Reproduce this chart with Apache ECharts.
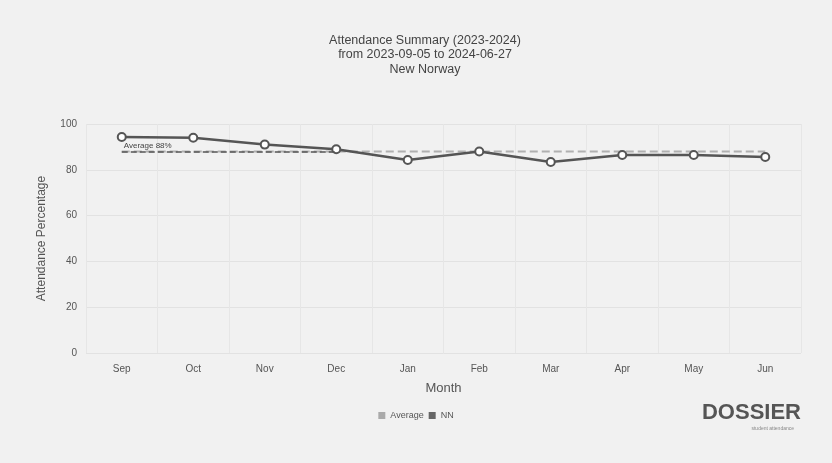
<!DOCTYPE html>
<html>
<head>
<meta charset="utf-8">
<script src="https://cdn.jsdelivr.net/npm/echarts@6/dist/echarts.min.js"></script>
<style>
  html, body { margin: 0; padding: 0; background: #f1f1f1; }
  #chart { width: 832px; height: 463px; }
</style>
</head>
<body>
<div id="chart"></div>
<script>
const months = ["Sep", "Oct", "Nov", "Dec", "Jan", "Feb", "Mar", "Apr", "May", "Jun"];
const nnValues = [94.3, 94, 91, 89, 84.3, 88, 83.4, 86.5, 86.5, 85.6];
const averageValue = 88;
const averageValues = months.map(() => averageValue);
const yTicks = [0, 20, 40, 60, 80, 100];

const chart = echarts.init(document.getElementById("chart"));

const option = {
  backgroundColor: "#f1f1f1",
  textStyle: { fontFamily: "Liberation Sans, Arial, sans-serif" },
  title: {
    text: "Attendance Summary (2023-2024)\nfrom 2023-09-05 to 2024-06-27\nNew Norway",
    left: 420,
    textAlign: "center",
    top: 28,
    textStyle: { fontSize: 12.5, fontWeight: "normal", color: "#444", lineHeight: 14.5 },
  },
  grid: { left: 86, right: 31, top: 124, bottom: 110 },
  legend: {
    bottom: 38,
    left: "center",
    itemWidth: 7,
    itemHeight: 7,
    itemGap: 5,
    icon: "rect",
    textStyle: { fontSize: 9, color: "#555" },
    data: [
      { name: "Average", itemStyle: { color: "#aaa" } },
      { name: "NN", itemStyle: { color: "#666" } },
    ],
  },
  xAxis: {
    type: "category",
    data: months,
    name: "Month",
    nameLocation: "middle",
    nameGap: 29,
    nameTextStyle: { fontSize: 13, color: "#555" },
    axisLine: { show: false },
    axisTick: { show: false },
    axisLabel: { fontSize: 10, color: "#555", margin: 11 },
    splitLine: { show: true, lineStyle: { color: "#e6e6e6" } },
  },
  yAxis: {
    type: "value",
    min: yTicks[0],
    max: yTicks[yTicks.length - 1],
    interval: 20,
    name: "Attendance Percentage",
    nameLocation: "middle",
    nameGap: 38,
    nameTextStyle: { fontSize: 12, color: "#555" },
    axisLabel: { fontSize: 10, color: "#555", margin: 9 },
    splitLine: { lineStyle: { color: "#e2e2e2" } },
  },
  series: [
    {
      name: "Average",
      type: "line",
      data: averageValues,
      symbol: "none",
      lineStyle: { color: "#b0b0b0", type: "dashed", width: 2 },
      itemStyle: { color: "#aaa" },
      z: 1,
    },
    {
      name: "NN",
      type: "line",
      data: nnValues,
      symbol: "emptyCircle",
      symbolSize: 8,
      lineStyle: { color: "#555", width: 2.5 },
      itemStyle: { color: "#555", borderWidth: 2 },
      z: 3,
      markLine: {
        symbol: "none",
        silent: true,
        lineStyle: { color: "#555", type: "dashed", width: 1.5 },
        label: {
          position: "insideStartTop",
          formatter: "Average " + averageValue + "%",
          fontSize: 8,
          color: "#444",
          distance: 2,
        },
        data: [[{ coord: [months[0], averageValue] }, { coord: [months[3], averageValue] }]],
      },
    },
  ],
  graphic: [
    {
      type: "text",
      right: 31,
      bottom: 39,
      style: { text: "DOSSIER", font: "bold 22px Liberation Sans, Arial, sans-serif", fill: "#555" },
    },
    {
      type: "text",
      right: 38,
      bottom: 32,
      style: { text: "student attendance", font: "5px Liberation Sans, Arial, sans-serif", fill: "#888" },
    },
  ],
};

chart.setOption(option);
window.addEventListener("resize", () => chart.resize());
</script>
</body>
</html>
